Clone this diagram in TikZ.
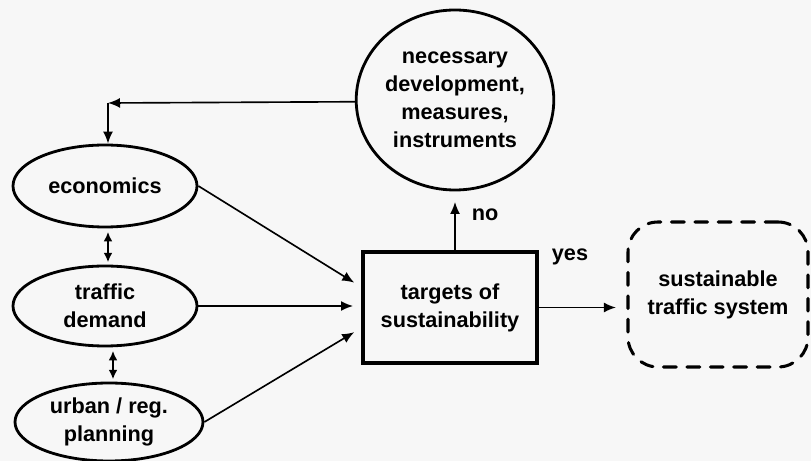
\documentclass[tikz,border=0pt]{standalone}
\usepackage{fontspec}
\setmainfont{Liberation Sans}
\usetikzlibrary{shapes.geometric, arrows.meta}

\tikzset{
    txt/.style={font=\fontsize{18.5}{24}\selectfont\bfseries, align=center},
    oval/.style={txt, draw, ellipse, line width=2.4pt, inner sep=0pt},
    arr/.style={-{Latex[length=3.6mm,width=3mm]}, line width=1.4pt},
    darr/.style={{Latex[length=2.8mm,width=2.6mm]}-{Latex[length=2.8mm,width=2.6mm]}, line width=1.4pt}
}

\begin{document}
\begin{tikzpicture}[x=0.03cm, y=-0.03cm]
        \useasboundingbox[fill=black!3] (0,0) rectangle (811,461);

        % left side
        \node[oval, minimum width=5.52cm, minimum height=2.46cm] (eco) at (105,186) {economics};
        \node[oval, minimum width=5.52cm, minimum height=2.4cm] (trf) at (105,306) {traffic\\demand};
        \node[oval, minimum width=5.64cm, minimum height=2.34cm] (urb) at (109,422) {urban / reg.\\planning};

        % middle and top
        \node[txt, draw, line width=3pt, minimum width=5.22cm, minimum height=3.33cm] (tgt) at (450,307.5) {targets of\\sustainability};
        \node[oval, minimum width=5.7cm, minimum height=5.4cm] (nec) at (455,100) {necessary\\development,\\measures,\\instruments};

        % right
        \node[txt, draw, line width=2.6pt, dash pattern=on 11pt off 9pt, line cap=round,
              rounded corners=0.9cm, minimum width=5.4cm, minimum height=4.35cm] (sts) at (718,294.5) {sustainable\\traffic system};

        \node[txt] (no) at (485,215) {no};
        \node[txt] (yes) at (570,257) {yes};
        \coordinate (corner) at (108,103);

        \draw[arr] (nec.181) -- (corner);
        \draw[arr] (corner) -- (corner |- eco.north);
        \draw[darr, shorten <=3pt, shorten >=2pt] ([xshift=0.09cm]eco.south) -- ([xshift=0.09cm]trf.north);
        \draw[darr, shorten <=3pt, shorten >=2pt] ([xshift=0.24cm]trf.south) -- ([xshift=0.24cm]trf.south |- urb.north);

        \draw[arr, shorten >=7pt] (eco.east) -- (tgt.167);
        \draw[arr, shorten >=7pt] (trf.east) -- (trf.east -| tgt.west);
        \draw[arr, shorten >=7pt] (urb.east) -- (tgt.193);

        \draw[arr, shorten >=9pt] ([xshift=0.15cm]tgt.north) -- ([xshift=0.15cm]tgt.north |- nec.south);
        \draw[arr, shorten >=9pt] (tgt.east) -- (tgt.east -| sts.west);
    \end{tikzpicture}
\end{document}
